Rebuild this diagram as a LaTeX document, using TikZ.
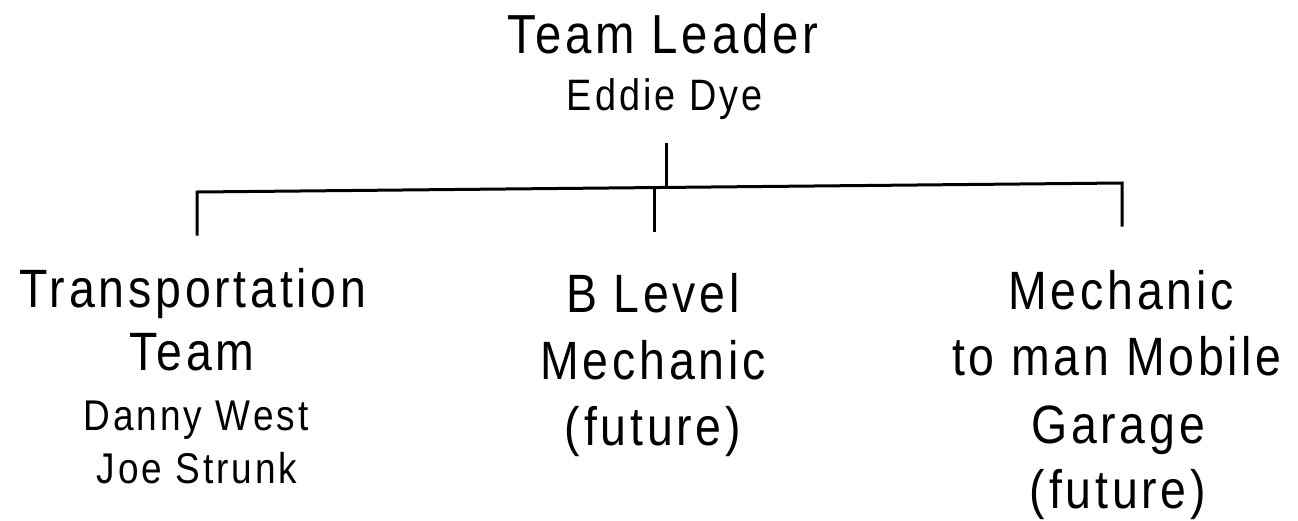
\documentclass[tikz,border=0pt]{standalone}
\usepackage{fontspec}
\setmainfont[FakeStretch=0.86, LetterSpace=7]{Liberation Sans}
\begin{document}
\begin{tikzpicture}[x=1pt,y=-1pt]
	\tikzset{
		bigtext/.style={anchor=base, inner sep=0pt, font=\fontsize{54}{60}\selectfont},
		nametext/.style={anchor=base, inner sep=0pt, font=\fontsize{43}{50}\selectfont},
		orgline/.style={line width=3pt, black, line join=miter}
	}
	\useasboundingbox (0,0) rectangle (1298,520);

	% leader
	\node[bigtext, font=\fontsize{55}{60}\selectfont] (leader) at (663,53) {Team Leader};
	\node[nametext, font=\fontsize{44}{50}\selectfont] (leaderName) at (665,110) {Eddie Dye};

	% transportation team
	\node[bigtext] (transportA) at (193,307) {Transportation};
	\node[bigtext] (transportB) at (192,370) {Team};
	\node[nametext] (danny) at (196,430) {Danny West};
	\node[nametext] (joe) at (197,483) {Joe Strunk};

	% b level mechanic
	\node[bigtext] (bLevelA) at (653,312) {B Level};
	\node[bigtext] (bLevelB) at (653,379) {Mechanic};
	\node[bigtext] (bLevelC) at (653,445) {(future)};

	% mobile garage mechanic
	\node[bigtext] (mechA) at (1121,309) {Mechanic};
	\node[bigtext] (mechB) at (1117,375) {to man Mobile};
	\node[bigtext] (mechC) at (1118,443) {Garage};
	\node[bigtext] (mechD) at (1118,508) {(future)};

	\coordinate (busL) at (197,192);
	\coordinate (busR) at (1122,183);
	\coordinate (stemFoot) at (666,187);
	\coordinate (midTop) at (654,187.5);

	\draw[orgline, shorten <=24pt] (leaderName.south -| stemFoot) -- (stemFoot);
	\draw[orgline, shorten <=32pt, shorten >=43pt] (busL |- transportA.north) -- (busL) -- (busR) -- (busR |- mechA.north);
	\draw[orgline, shorten >=41pt] (midTop) -- (midTop |- bLevelA.north);
\end{tikzpicture}
\end{document}
